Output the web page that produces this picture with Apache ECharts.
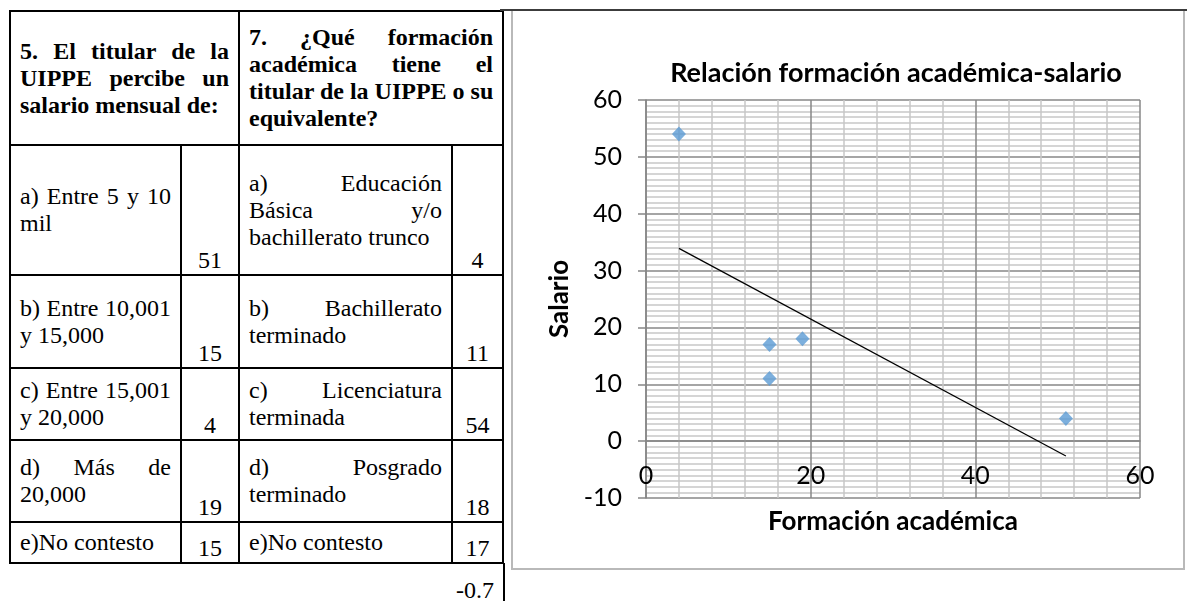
<!DOCTYPE html>
<html>
<head>
<meta charset="utf-8">
<title>Relación formación académica-salario</title>
<script src="https://cdn.jsdelivr.net/npm/echarts@6/dist/echarts.min.js"></script>
<style>
  html, body { margin: 0; padding: 0; background: #fff; }
  body { width: 1187px; height: 601px; position: relative; overflow: hidden; }
  .tabla {
    position: absolute; left: 9px; top: 10px;
    width: 494px;
    border-collapse: collapse; table-layout: fixed;
    font-family: "Liberation Serif", serif; font-size: 24px; line-height: 27px; color: #000;
  }
  .tabla td, .tabla th {
    border: 2px solid #000; padding: 0 9px; vertical-align: middle;
    text-align: left; font-weight: normal; white-space: nowrap;
  }
  .tabla th { font-weight: bold; }
  .tabla td.num { vertical-align: bottom; text-align: center; padding: 0; }
  .j { text-align: justify; text-align-last: justify; }
  .pie {
    position: absolute; left: 9px; top: 563px; width: 485px; height: 38px;
    border-right: 2px solid #000; padding-right: 9px;
    font-family: "Liberation Serif", serif; font-size: 24px; line-height: 27px;
    text-align: right; box-sizing: content-box;
  }
  .pie span { position: relative; top: 14px; }
  .marco {
    position: absolute; left: 511px; top: 9px; width: 670px; height: 557px;
    border: 2px solid #b9b9b9; border-top-color: #3c3c3c;
  }
  .linea { position: absolute; left: 500px; top: 9px; width: 687px; height: 2px; background: #3c3c3c; }
  #chart { position: absolute; left: 512px; top: 10px; width: 671px; height: 558px; }
</style>
</head>
<body>
<table class="tabla">
  <colgroup>
    <col style="width:171px"><col style="width:58px"><col style="width:213px"><col style="width:51px">
  </colgroup>
  <tr style="height:134px">
    <th colspan="2"><div class="j">5. El titular de la</div><div class="j">UIPPE percibe un</div><div>salario mensual de:</div></th>
    <th colspan="2"><div class="j">7. ¿Qué formación</div><div class="j">académica tiene el</div><div class="j">titular de la UIPPE o su</div><div>equivalente?</div></th>
  </tr>
  <tr style="height:130px">
    <td><div class="j">a) Entre 5 y 10</div><div>mil</div></td>
    <td class="num">51</td>
    <td><div class="j">a) Educación</div><div class="j">Básica y/o</div><div>bachillerato trunco</div></td>
    <td class="num">4</td>
  </tr>
  <tr style="height:93px">
    <td><div class="j">b) Entre 10,001</div><div>y 15,000</div></td>
    <td class="num">15</td>
    <td><div class="j">b) Bachillerato</div><div>terminado</div></td>
    <td class="num">11</td>
  </tr>
  <tr style="height:72px">
    <td><div class="j">c) Entre 15,001</div><div>y 20,000</div></td>
    <td class="num">4</td>
    <td><div class="j">c) Licenciatura</div><div>terminada</div></td>
    <td class="num">54</td>
  </tr>
  <tr style="height:82px">
    <td><div class="j">d) Más de</div><div>20,000</div></td>
    <td class="num">19</td>
    <td><div class="j">d) Posgrado</div><div>terminado</div></td>
    <td class="num">18</td>
  </tr>
  <tr style="height:41px">
    <td>e)No contesto</td>
    <td class="num">15</td>
    <td>e)No contesto</td>
    <td class="num">17</td>
  </tr>
</table>
<div class="pie"><span>-0.7</span></div>

<div class="marco"></div>
<div class="linea"></div>
<div id="chart"></div>

<script>
  const salario = [51, 15, 4, 19, 15];
  const formacion = [4, 11, 54, 18, 17];
  // línea de tendencia (extremos)
  const tendenciaX = [4, 51];
  const tendenciaY = [33.9, -2.6];
  const ejeX = [0, 60, 20];
  const ejeY = [-10, 60, 10];

  const fuente = 'Lato';
  const grid = { left: 134, right: 43, top: 90, bottom: 70 };
  const altoPlot = 558 - grid.top - grid.bottom;
  // el eje X cruza en y = 0 (como en Excel)
  const offsetX = -altoPlot * (0 - ejeY[0]) / (ejeY[1] - ejeY[0]);

  let myChart = echarts.init(document.getElementById('chart'));
  let option = {
    animation: false,
    title: {
      text: 'Relación formación académica-salario',
      left: 379,
      top: 45,
      textAlign: 'center',
      textStyle: { fontFamily: fuente, fontSize: 27, fontWeight: 'bold', color: '#000' }
    },
    grid: Object.assign({ outerBoundsMode: 'none' }, grid),
    xAxis: {
      type: 'value',
      position: 'bottom',
      offset: offsetX,
      min: ejeX[0], max: ejeX[1], interval: ejeX[2],
      name: 'Formación académica',
      nameLocation: 'middle',
      nameGap: 67,
      nameTextStyle: { fontFamily: fuente, fontSize: 26, fontWeight: 'bold', color: '#000' },
      axisLine: { show: true, onZero: false, lineStyle: { color: '#868686', width: 1.5 } },
      axisTick: { show: false },
      axisLabel: { margin: 22, fontFamily: fuente, fontSize: 25, color: '#000' },
      splitLine: { show: true, lineStyle: { color: '#878787', width: 1.5 } },
      minorTick: { show: false, splitNumber: 5 },
      minorSplitLine: { show: true, lineStyle: { color: '#c8c8c8', width: 1.5 } }
    },
    yAxis: {
      type: 'value',
      min: ejeY[0], max: ejeY[1], interval: ejeY[2],
      name: 'Salario',
      nameLocation: 'middle',
      nameGap: 63,
      nameTextStyle: { fontFamily: fuente, fontSize: 26, fontWeight: 'bold', color: '#000' },
      axisLine: { show: true, onZero: false, lineStyle: { color: '#868686', width: 1.5 } },
      axisTick: { show: true, length: 8, lineStyle: { color: '#868686', width: 1.5 } },
      axisLabel: { margin: 24, fontFamily: fuente, fontSize: 25, color: '#000' },
      splitLine: { show: true, lineStyle: { color: '#878787', width: 1.5 } },
      minorTick: { show: false, splitNumber: 10 },
      minorSplitLine: { show: true, lineStyle: { color: '#c8c8c8', width: 1.5 } }
    },
    series: [
      {
        name: 'Tendencia',
        type: 'line',
        data: tendenciaX.map((x, i) => [x, tendenciaY[i]]),
        symbol: 'none',
        lineStyle: { color: '#000', width: 1.2 },
        z: 3
      },
      {
        name: 'Salario',
        type: 'scatter',
        data: salario.map((x, i) => [x, formacion[i]]),
        symbol: 'diamond',
        symbolSize: [14, 15],
        itemStyle: { color: '#5b9bd5' },
        z: 4
      }
    ]
  };
  myChart.setOption(option);
</script>
</body>
</html>
